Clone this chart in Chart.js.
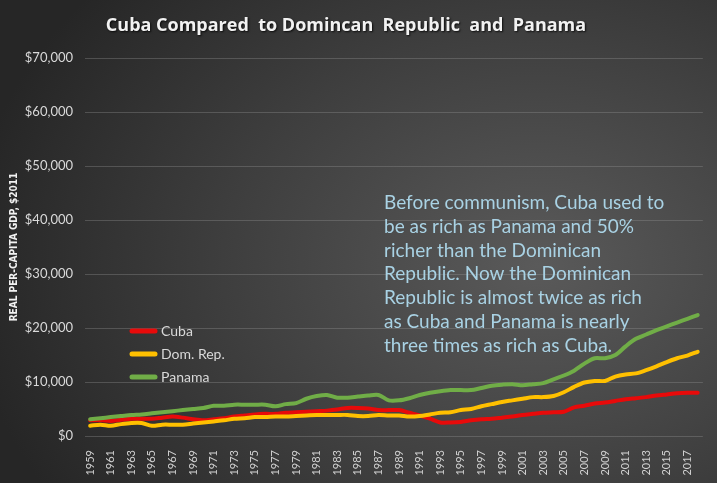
<!DOCTYPE html>
<html>
<head>
<meta charset="utf-8">
<script src="https://cdn.jsdelivr.net/npm/chart.js@4"></script>
<style>
  html, body { margin: 0; padding: 0; }
  body {
    width: 717px; height: 483px; overflow: hidden;
    background: radial-gradient(ellipse 80% 90% at 75% 55%, #5a5a5a 0%, #3e3e3e 55%, #262626 100%);
  }
  #wrap { position: relative; width: 717px; height: 483px; }
</style>
</head>
<body>
<div id="wrap"><canvas id="gdpChart" width="717" height="483"></canvas></div>
<script>
// Years on the x axis
const years = [];
for (let y = 1959; y <= 2018; y++) years.push(String(y));

// Real per-capita GDP, $2011
const cuba = [
  2900, 2900, 2800, 3000, 3200, 3200, 3200, 3400, 3600, 3400,
  3100, 2900, 3100, 3300, 3600, 3800, 4000, 4100, 4100, 4300,
  4400, 4500, 4600, 4700, 4900, 5200, 5200, 5100, 4800, 4800,
  4800, 4300, 3800, 3200, 2500, 2500, 2600, 2900, 3100, 3200,
  3400, 3600, 3900, 4100, 4300, 4400, 4500, 5300, 5600, 6000,
  6200, 6500, 6800, 7000, 7200, 7500, 7700, 7900, 8000, 8000
];
const domRep = [
  1900, 2100, 1900, 2200, 2400, 2400, 1900, 2100, 2100, 2100,
  2300, 2500, 2700, 2900, 3200, 3300, 3500, 3500, 3600, 3600,
  3700, 3800, 3900, 3900, 3900, 3900, 3700, 3700, 3900, 3800,
  3800, 3600, 3700, 4000, 4300, 4400, 4800, 5000, 5500, 5900,
  6300, 6600, 6900, 7200, 7200, 7400, 8100, 9100, 9900, 10200,
  10200, 11000, 11400, 11600, 12200, 12900, 13700, 14400, 14900, 15600
];
const panama = [
  3100, 3300, 3500, 3700, 3900, 4000, 4200, 4400, 4600, 4800,
  5000, 5200, 5600, 5600, 5800, 5800, 5800, 5800, 5500, 5900,
  6100, 6900, 7400, 7600, 7100, 7100, 7300, 7500, 7600, 6600,
  6600, 7000, 7600, 8000, 8300, 8500, 8500, 8500, 8900, 9300,
  9500, 9600, 9400, 9600, 9800, 10500, 11200, 12100, 13400, 14400,
  14400, 15000, 16600, 18000, 18800, 19600, 20300, 21000, 21700, 22400
];

const yTicks = [0, 10000, 20000, 30000, 40000, 50000, 60000, 70000];

const noteLines = [
  "Before communism, Cuba used to",
  "be as rich as Panama and 50%",
  "richer than the Dominican",
  "Republic. Now the Dominican",
  "Republic is almost twice as rich",
  "as Cuba and Panama is nearly",
  "three times as rich as Cuba."
];

// Title, legend inside the plot and the note text
const decorPlugin = {
  id: "decor",
  afterDraw(chart) {
    const ctx = chart.ctx;
    ctx.save();

    // title
    ctx.font = "bold 18px 'Open Sans'";
    ctx.fillStyle = "#f2f2f2";
    ctx.textAlign = "center";
    ctx.textBaseline = "alphabetic";
    ctx.shadowColor = "rgba(0,0,0,0.8)";
    ctx.shadowOffsetX = 1;
    ctx.shadowOffsetY = 1;
    ctx.shadowBlur = 2;
    ctx.fillText("Cuba Compared  to Domincan  Republic  and  Panama", 346, 31);
    ctx.shadowColor = "transparent";

    // legend
    ctx.textAlign = "left";
    ctx.textBaseline = "middle";
    ctx.font = "14px Lato";
    chart.data.datasets.forEach((ds, i) => {
      const y = 331 + i * 23;
      ctx.strokeStyle = ds.borderColor;
      ctx.lineWidth = 5;
      ctx.lineCap = "round";
      ctx.beginPath();
      ctx.moveTo(132, y);
      ctx.lineTo(155, y);
      ctx.stroke();
      ctx.fillStyle = "#d9d9d9";
      ctx.fillText(ds.label, 161, y);
    });

    // note
    ctx.font = "19px Lato";
    ctx.fillStyle = "#a9d2e4";
    ctx.textBaseline = "alphabetic";
    noteLines.forEach((t, i) => ctx.fillText(t, 384, 209 + i * 23.8));

    ctx.restore();
  }
};

const ctx = document.getElementById("gdpChart").getContext("2d");
new Chart(ctx, {
  type: "line",
  data: {
    labels: years,
    datasets: [
      { label: "Cuba", data: cuba, borderColor: "#e80a0a", order: 3 },
      { label: "Dom. Rep.", data: domRep, borderColor: "#ffc000", order: 2 },
      { label: "Panama", data: panama, borderColor: "#70ad47", order: 1 }
    ]
  },
  options: {
    responsive: false,
    animation: false,
    devicePixelRatio: 1,
    layout: { padding: { top: 58, right: 14, bottom: 7, left: 4 } },
    elements: {
      line: { borderWidth: 4, tension: 0.3, fill: false, borderCapStyle: "round" },
      point: { radius: 0 }
    },
    plugins: {
      legend: { display: false },
      tooltip: { enabled: false }
    },
    scales: {
      x: {
        offset: true,
        grid: { display: false },
        border: { display: false },
        ticks: {
          autoSkip: false,
          maxRotation: 90,
          minRotation: 90,
          color: "#d0d0d0",
          font: { family: "Lato", size: 11 },
          padding: 6,
          callback: (v, i) => (i % 2 === 0 ? years[i] : "")
        },
        afterFit: (s) => { s.height = 40; }
      },
      y: {
        min: 0,
        max: 70000,
        afterBuildTicks: (s) => { s.ticks = yTicks.map((v) => ({ value: v })); },
        grid: { color: "rgba(150,150,150,0.35)", drawTicks: false },
        border: { display: false },
        ticks: {
          color: "#d9d9d9",
          font: { family: "Lato", size: 13 },
          padding: 12,
          callback: (v) => "$" + v.toLocaleString("en-US")
        },
        title: {
          display: true,
          text: "REAL PER-CAPITA GDP, $2011",
          color: "#f2f2f2",
          font: { family: "'Liberation Sans Narrow', 'DejaVu Sans Condensed'", size: 10, weight: "bold" },
          padding: { top: 4, bottom: 2 }
        },
        afterFit: (s) => { s.width = 81; }
      }
    }
  },
  plugins: [decorPlugin]
});
</script>
</body>
</html>
